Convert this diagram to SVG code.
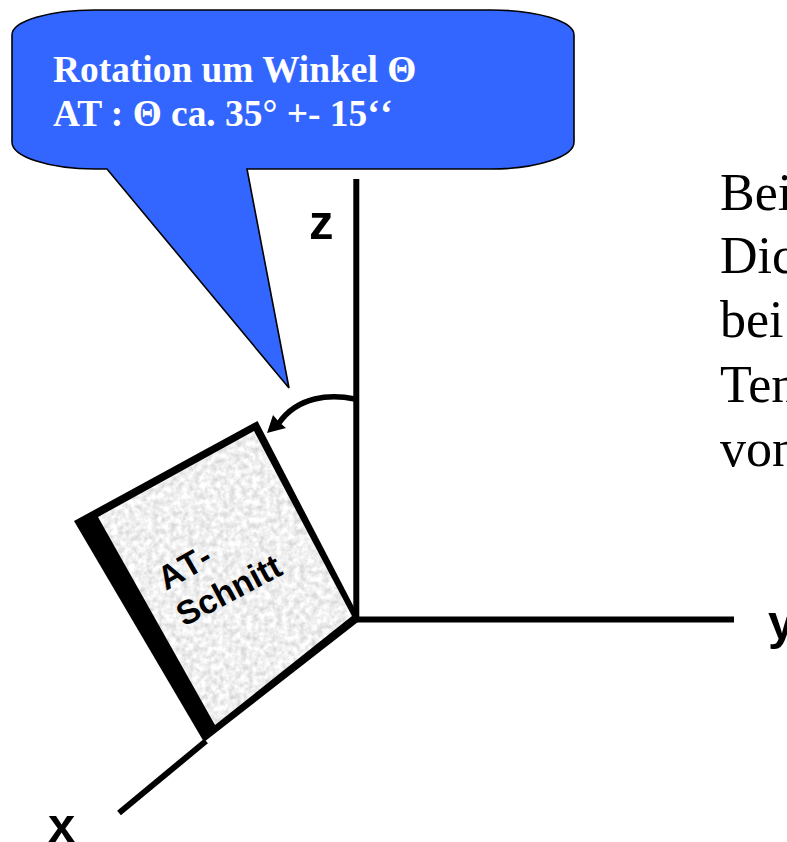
<svg xmlns="http://www.w3.org/2000/svg" width="787" height="842" viewBox="0 0 787 842">
<style>
.ax{stroke:#000;stroke-width:6;fill:none}
.lbl{font-family:"Liberation Sans",Arial,sans-serif;font-weight:700;fill:#000;font-kerning:none}
.call{font-family:"Liberation Serif","Times New Roman",serif;font-weight:700;font-size:37.4px;fill:#fff}
.body{font-family:"Liberation Serif","Times New Roman",serif;font-size:52px;fill:#000}
</style>
<defs>
<filter id="grain" x="0" y="0" width="100%" height="100%" color-interpolation-filters="sRGB">
<feTurbulence type="fractalNoise" baseFrequency="0.17" numOctaves="3" seed="4"/>
<feColorMatrix type="matrix" values="0.3 0 0 0 0.79 0.3 0 0 0 0.79 0.3 0 0 0 0.79 0 0 0 0 1"/>
<feComposite in2="SourceAlpha" operator="in"/>
</filter>
</defs>
<g id="connectors">
<path class="ax" d="M356.3 179V620"/>
<path class="ax" d="M356 619.5H734"/>
<path class="ax" d="M206 741L119 813"/>
<path d="M355 399C330 394 298 396 279 423" fill="none" stroke="#000" stroke-width="5.5"/>
<path d="M267 433L273 415L279 422L286 428Z" fill="#000"/>
</g>
<g id="plate">
<path d="M257.5 421L74 521L204 742L358 622L356 611Z" fill="#000"/>
<path d="M254 431L98 517L215 725L352 616Z" fill="#ededed" filter="url(#grain)"/>
<text class="lbl" font-size="33.5" transform="translate(166,591) rotate(-30)">AT-</text>
<text class="lbl" font-size="33.5" transform="translate(184,627) rotate(-28)">Schnitt</text>
</g>
<g id="callout">
<path d="M95 169A83 27 0 0 1 12 142V35A83 25 0 0 1 95 10H491A83 25 0 0 1 574 35V142A83 27 0 0 1 491 169H247L289 388L107 169Z" fill="#36f" stroke="#000" stroke-width="1.6"/>
<text class="call" x="53" y="82">Rotation um Winkel Θ</text>
<text class="call" x="53" y="126">AT : Θ ca. 35° +- 15‘<tspan dx="3">‘</tspan></text>
</g>
<g id="labels">
<text class="lbl" font-size="49" x="309" y="239">z</text>
<text class="lbl" font-size="49" x="768" y="639">y</text>
<text class="lbl" font-size="49" x="48" y="842">x</text>
</g>
<g id="body">
<text class="body" x="720" y="210">Bei</text>
<text class="body" x="720" y="273">Dic</text>
<text class="body" x="720" y="337">bei</text>
<text class="body" x="720" y="402">Ten</text>
<text class="body" x="720" y="466">von</text>
</g>
</svg>
